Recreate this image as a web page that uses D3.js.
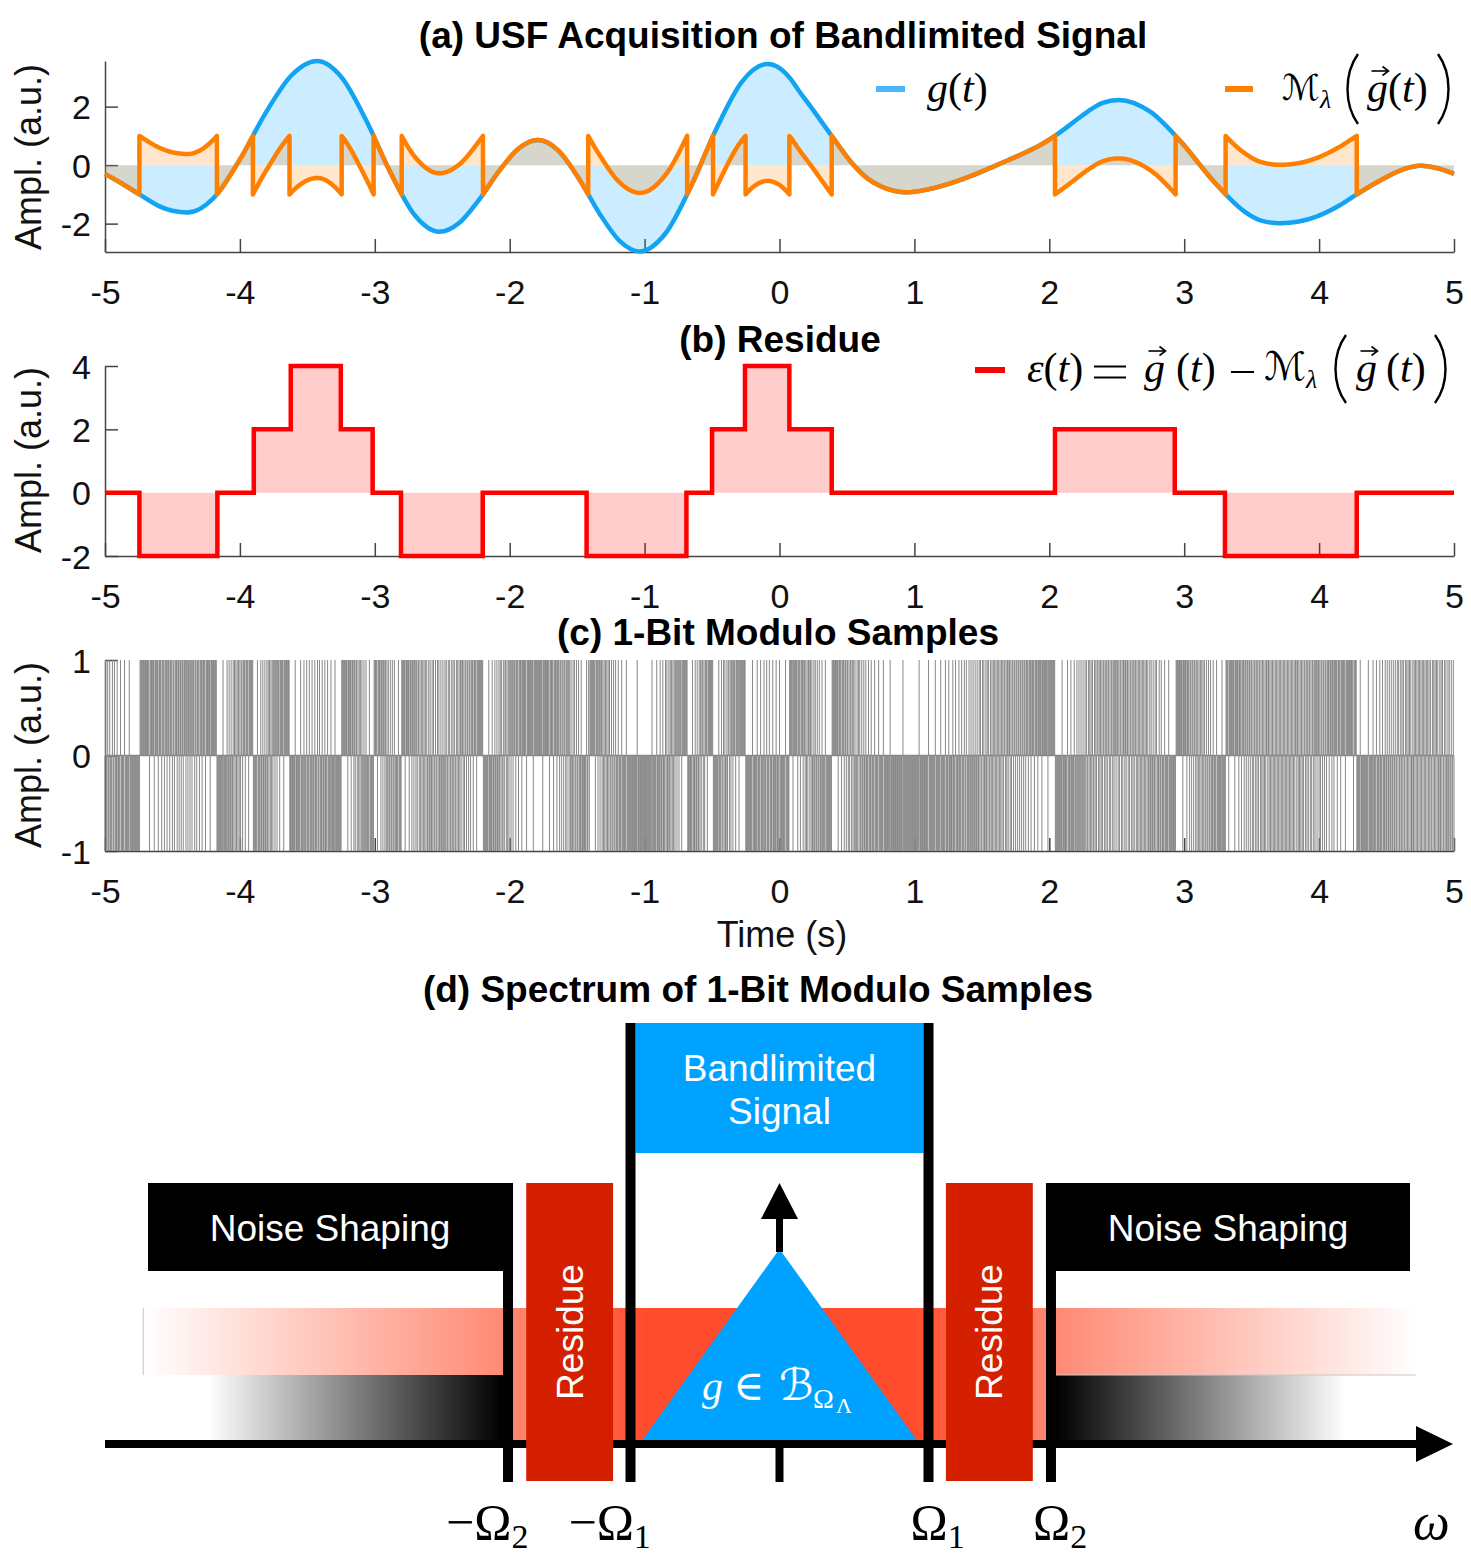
<!DOCTYPE html>
<html>
<head>
<meta charset="utf-8">
<script src="https://cdn.jsdelivr.net/npm/d3@7"></script>
<style>
  body { margin: 0; background: #fff; }
  svg { display: block; }
  text { font-family: "Liberation Sans", Arial, sans-serif; }
  .math { font-family: "Liberation Serif", "DejaVu Serif", "DejaVu Sans", serif; }
</style>
</head>
<body>
<svg id="fig" width="1471" height="1561"></svg>
<script>
// g(t)
var gTime  = [-5, -4.875, -4.745, -4.6, -4.5, -4.387, -4.195, -4.003, -3.811, -3.619, -3.427,
              -3.246, -3.065, -2.883, -2.702, -2.521, -2.375, -2.229, -2.082, -1.936, -1.79,
              -1.639, -1.488, -1.337, -1.186, -1.035, -0.846, -0.657, -0.468, -0.279, -0.09,
              0, 0.073, 0.15, 0.231, 0.387, 0.55, 0.65, 0.75, 0.85, 0.943,
              1.1, 1.3, 1.5, 1.65, 1.807, 1.93, 2.042, 2.16, 2.29, 2.39, 2.515,
              2.748, 2.981, 3.214, 3.447, 3.564, 3.71, 3.85, 3.98, 4.15, 4.279,
              4.4, 4.52, 4.64, 4.75, 4.87, 5];
var gValue = [-0.3, -0.63, -1, -1.4, -1.56, -1.62, -1.125, 0.17, 1.77, 3.065, 3.56,
              3.002, 1.542, -0.262, -1.722, -2.28, -1.98, -1.195, -0.225, 0.56, 0.86,
              0.496, -0.456, -1.634, -2.586, -2.95, -2.338, -0.735, 1.245, 2.848, 3.46,
              3.32, 3, 2.5, 2, 1, 0, -0.45, -0.72, -0.88, -0.93,
              -0.83, -0.57, -0.22, 0.08, 0.4, 0.68, 1, 1.4, 1.85, 2.12, 2.23,
              1.827, 0.772, -0.532, -1.587, -1.887, -1.99, -1.93, -1.76, -1.38, -1,
              -0.66, -0.36, -0.12, -0.02, -0.1, -0.3];
// residue: level held between consecutive step times
var stepTime = [-5, -4.745, -4.167, -3.897, -3.623, -3.252, -3.016, -2.806, -2.2, -1.43, -0.69, -0.5, -0.256,
                0.073, 0.387, 2.042, 2.93, 3.302, 4.279, 5];
var residueLevel = [0, -2, 0, 2, 4, 2, 0, -2, 0, -2, 0, 2, 4, 2, 0, 2, 0, -2, 0];
var timeTicks = [-5, -4, -3, -2, -1, 0, 1, 2, 3, 4, 5];
var ampTicksA = [-2, 0, 2];
var ampTicksB = [-2, 0, 2, 4];
var ampTicksC = [-1, 0, 1];
var lambda = 1;           // modulo threshold
var sampleStep = 0.005;   // 1-bit sampling period (s)
// spectrum sketch (panel d), frequencies in units of Omega_1
var bandEdges = [-1.822, -1, 1, 1.822];
var bandNames = ["\u2212\u03a9", "\u2212\u03a9", "\u03a9", "\u03a9"];
var bandSubs = ["2", "1", "1", "2"];

var svg = d3.select("#fig");
var x = d3.scaleLinear().domain([-5, 5]).range([105, 1454]);
var yA = d3.scaleLinear().domain([-2.97, 3.56]).range([252, 61]);
var yB = d3.scaleLinear().domain([-2, 4]).range([556, 366]);
var yC = d3.scaleLinear().domain([-1, 1]).range([851, 660]);

var axisCol = "#444";

function drawAxes(yScale, yTicks){
  var gx = svg.append("g").attr("transform", "translate(0," + yScale.range()[0] + ")")
    .call(d3.axisBottom(x).tickValues(timeTicks).tickSize(-13).tickSizeOuter(0).tickFormat(function(d){ return String(d); }));
  var gy = svg.append("g").attr("transform", "translate(" + x.range()[0] + ",0)")
    .call(d3.axisLeft(yScale).tickValues(yTicks).tickSize(-13).tickSizeOuter(0).tickFormat(function(d){ return String(d); }));
  [gx, gy].forEach(function(a){
    a.attr("font-size", null).attr("font-family", null);
    a.select(".domain").attr("stroke", axisCol).attr("stroke-width", 1.5);
    a.selectAll(".tick line").attr("stroke", axisCol).attr("stroke-width", 1.5);
    a.selectAll(".tick text").attr("fill", "#111").attr("font-size", 34);
  });
  gx.selectAll(".tick text").attr("y", 52).attr("dy", null);
  gy.selectAll(".tick text").attr("x", -14).attr("dy", "0.36em");
}

function title(s, cx, by){
  svg.append("text").attr("x", cx).attr("y", by).attr("text-anchor", "middle")
    .attr("font-size", 37).attr("font-weight", "bold").attr("fill", "#000").text(s);
}
function ylabel(cy){
  svg.append("text").attr("transform", "translate(41," + cy + ") rotate(-90)").attr("text-anchor", "middle")
    .attr("font-size", 36).attr("fill", "#111").text("Ampl. (a.u.)");
}
// math helpers for the legends
function mtext(xp, yp, parts, size){
  var t = svg.append("text").attr("class", "math").attr("x", xp).attr("y", yp).attr("font-size", size || 40).attr("fill", "#000");
  parts.forEach(function(p){ t.append("tspan").attr("font-style", p[1] ? "italic" : "normal").text(p[0]); });
  return t;
}
function vecArrow(xc, yb, w){
  var y = yb - 31;
  svg.append("path").attr("d", "M" + (xc - w / 2) + "," + y + "H" + (xc + w / 2 - 1))
    .attr("stroke", "#000").attr("stroke-width", 1.6).attr("fill", "none");
  svg.append("path").attr("d", "M" + (xc + w / 2 - 6) + "," + (y - 4.5) + "L" + (xc + w / 2) + "," + y + "L" + (xc + w / 2 - 6) + "," + (y + 4.5))
    .attr("stroke", "#000").attr("stroke-width", 1.6).attr("fill", "none");
}
function bigParen(x0, x1, top, bot, open){
  var xi = open ? x1 : x0, xo = open ? x0 : x1, h = bot - top;
  svg.append("path").attr("d", "M" + xi + "," + top + "C" + xo + "," + (top + h * 0.28) + " " + xo + "," + (bot - h * 0.28) + " " + xi + "," + bot)
    .attr("stroke", "#000").attr("stroke-width", 2.4).attr("fill", "none");
}
// script M with lambda subscript, squeezed to the given width
function modM(x0, yb, w){
  var m = mtext(x0, yb, [["\u2133", false]], 40);
  var mw = m.node().getComputedTextLength();
  m.attr("font-size", 40 * Math.min(1, w / mw));
  mw = m.node().getComputedTextLength();
  mtext(x0 + mw, yb + 8, [["\u03bb", true]], 26);
}
function eqSign(x0, x1, yc){
  [yc - 5.5, yc + 5.5].forEach(function(yy){
    svg.append("line").attr("x1", x0).attr("x2", x1).attr("y1", yy).attr("y2", yy).attr("stroke", "#000").attr("stroke-width", 2);
  });
}
function legendLine(x0, x1, y, col){
  svg.append("line").attr("x1", x0).attr("x2", x1).attr("y1", y).attr("y2", y).attr("stroke", col).attr("stroke-width", 6);
}

// ---------- (a) ----------
drawAxes(yA, ampTicksA);
var fillLayer = svg.append("g"), lineLayer = svg.append("g");
var gPts = gTime.map(function(t, k){ return [t, gValue[k]]; });
var areaA = d3.area().x(function(p){ return x(p[0]); }).y0(yA(0)).y1(function(p){ return yA(p[1]); });
var lineA = d3.line().x(function(p){ return x(p[0]); }).y(function(p){ return yA(p[1]); });
fillLayer.append("path").attr("d", areaA.curve(d3.curveMonotoneX)(gPts)).attr("fill", "rgba(0,160,255,0.2)");
var blue = lineLayer.append("path").attr("d", lineA.curve(d3.curveMonotoneX)(gPts)).attr("fill", "none")
  .attr("stroke", "#12a3f3").attr("stroke-width", 4.5);
// follow the drawn g(t) curve and fold it into [-lambda, lambda)
var bn = blue.node(), bl = bn.getTotalLength(), dense = [];
for (var s = 0; s <= bl; s += 0.5){
  var pp = bn.getPointAtLength(s);
  dense.push([x.invert(pp.x), yA.invert(pp.y)]);
}
dense.sort(function(a, b){ return a[0] - b[0]; });
var denseT = dense.map(function(p){ return p[0]; });
function gAt(t){
  var i = Math.max(1, Math.min(dense.length - 1, d3.bisectRight(denseT, t)));
  var a = dense[i - 1], b = dense[i];
  return b[0] === a[0] ? a[1] : a[1] + (b[1] - a[1]) * (t - a[0]) / (b[0] - a[0]);
}
function levelOf(v){ return 2 * lambda * Math.floor((v + lambda) / (2 * lambda)); }
var segs = [], cur = [], curLev = levelOf(dense[0][1]);
dense.forEach(function(p, i){
  var lev = levelOf(p[1]);
  if (i > 0 && lev !== curLev){
    var q = dense[i - 1];
    var bnd = lev > curLev ? curLev + lambda : curLev - lambda;
    var tc = q[0] + (bnd - q[1]) * (p[0] - q[0]) / (p[1] - q[1]);
    cur.push([tc, bnd - curLev]);
    segs.push(cur);
    cur = [[tc, bnd - lev]];
    curLev = lev;
  }
  cur.push([p[0], p[1] - curLev]);
});
segs.push(cur);
areaA.curve(d3.curveLinear); lineA.curve(d3.curveLinear);
segs.forEach(function(sg){ fillLayer.append("path").attr("d", areaA(sg)).attr("fill", "rgba(255,128,0,0.2)"); });
var dOrange = "";
segs.forEach(function(sg, i){ var d = lineA(sg); dOrange += (i > 0 ? "L" + d.slice(1) : d); });
lineLayer.append("path").attr("d", dOrange).attr("fill", "none").attr("stroke", "#ff8000").attr("stroke-width", 4.5).attr("stroke-linejoin", "round");
title("(a) USF Acquisition of Bandlimited Signal", 783, 48);
ylabel(157);
legendLine(876, 905, 89, "#4db5fa");
mtext(927, 102, [["g", true], ["(", false], ["t", true], [")", false]], 42);
legendLine(1225, 1253, 89, "#ff8000");
modM(1282, 100, 38);
bigParen(1344, 1358, 54, 124, true);
mtext(1367, 102, [["g", true]], 42);
vecArrow(1380, 102, 17);
mtext(1388, 102, [["(", false], ["t", true], [")", false]], 42);
bigParen(1438, 1452, 54, 124, false);

// ---------- (b) ----------
drawAxes(yB, ampTicksB);
var resPts = residueLevel.map(function(r, i){ return [stepTime[i], r]; });
resPts.push([stepTime[stepTime.length - 1], residueLevel[residueLevel.length - 1]]);
var areaB = d3.area().x(function(p){ return x(p[0]); }).y0(yB(0)).y1(function(p){ return yB(p[1]); }).curve(d3.curveStepAfter);
var lineB = d3.line().x(function(p){ return x(p[0]); }).y(function(p){ return yB(p[1]); }).curve(d3.curveStepAfter);
svg.append("path").attr("d", areaB(resPts)).attr("fill", "rgba(255,0,0,0.2)");
svg.append("path").attr("d", lineB(resPts)).attr("fill", "none").attr("stroke", "#ff0000").attr("stroke-width", 4.5);
title("(b) Residue", 780, 352);
ylabel(460);
legendLine(975, 1005, 370, "#ff0000");
mtext(1027, 382, [["\u03b5", true], ["(", false], ["t", true], [")", false]], 42);
eqSign(1094, 1126, 372);
mtext(1144, 382, [["g", true]], 42);
vecArrow(1157, 382, 17);
mtext(1176, 382, [["(", false], ["t", true], [")", false]], 42);
svg.append("line").attr("x1", 1231).attr("x2", 1254).attr("y1", 372).attr("y2", 372).attr("stroke", "#000").attr("stroke-width", 2);
modM(1264, 380, 42);
bigParen(1332, 1346, 335, 403, true);
mtext(1356, 382, [["g", true]], 42);
vecArrow(1369, 382, 17);
mtext(1386, 382, [["(", false], ["t", true], [")", false]], 42);
bigParen(1435, 1449, 335, 403, false);

// ---------- (c) ----------
drawAxes(yC, ampTicksC);
// first order sigma-delta of the modulo signal -> +-1 samples
var acc = 0, dStem = "";
d3.range(0, Math.round(10 / sampleStep) + 1).forEach(function(n){
  var t = -5 + n * sampleStep;
  var g = gAt(t);
  var v = acc + (g - levelOf(g)) / lambda;
  var q = v >= 0 ? 1 : -1;
  acc = v - q;
  dStem += "M" + x(t).toFixed(2) + "," + yC(0) + "V" + yC(q);
});
svg.append("path").attr("d", dStem).attr("stroke", "#888").attr("stroke-width", 1).attr("fill", "none");
svg.append("line").attr("x1", x(-5)).attr("x2", x(5)).attr("y1", yC(0)).attr("y2", yC(0)).attr("stroke", "#888").attr("stroke-width", 1.5);
title("(c) 1-Bit Modulo Samples", 778, 645);
ylabel(755);
svg.append("text").attr("x", 782).attr("y", 947).attr("text-anchor", "middle").attr("font-size", 36).attr("fill", "#111").text("Time (s)");

// ---------- (d) spectrum sketch ----------
var wx = d3.scaleLinear().domain([-1, 1]).range([630.5, 928.5]);
var axY = 1444, lineW = 10;
var defs = svg.append("defs");
var rg = defs.append("linearGradient").attr("id", "redBand").attr("gradientUnits", "userSpaceOnUse")
  .attr("x1", wx(-4.27)).attr("x2", wx(4.27)).attr("y1", 0).attr("y2", 0);
[[0, "#ffffff"], [0.283, "#ff8a74"], [0.37, "#ff5e40"], [0.395, "#ff4c2c"], [0.605, "#ff4c2c"], [0.63, "#ff5e40"], [0.717, "#ff8a74"], [1, "#ffffff"]]
  .forEach(function(s){ rg.append("stop").attr("offset", s[0]).attr("stop-color", s[1]); });
function blackGrad(id, xw, xb){
  var g = defs.append("linearGradient").attr("id", id).attr("gradientUnits", "userSpaceOnUse")
    .attr("x1", xw).attr("x2", xb).attr("y1", 0).attr("y2", 0);
  g.append("stop").attr("offset", 0).attr("stop-color", "#fff");
  g.append("stop").attr("offset", 1).attr("stop-color", "#000");
}
var xL2 = wx(bandEdges[0]), xL1 = wx(bandEdges[1]), xR1 = wx(bandEdges[2]), xR2 = wx(bandEdges[3]);
blackGrad("blkL", wx(-3.84), xL2 - lineW / 2);
blackGrad("blkR", wx(3.8), xR2 + lineW / 2);

// red band, outer parts and centre
svg.append("rect").attr("x", wx(-4.27)).attr("y", 1308).attr("width", xL2 - lineW / 2 - wx(-4.27)).attr("height", 67).attr("fill", "url(#redBand)");
svg.append("rect").attr("x", xR2 + lineW / 2).attr("y", 1308).attr("width", wx(4.27) - xR2 - lineW / 2).attr("height", 67).attr("fill", "url(#redBand)");
svg.append("rect").attr("x", xL2).attr("y", 1308).attr("width", xR2 - xL2).attr("height", axY - 1308).attr("fill", "url(#redBand)");
svg.append("rect").attr("x", wx(-4.27)).attr("y", 1375).attr("width", xL2 - lineW / 2 - wx(-4.27)).attr("height", axY - 1375).attr("fill", "url(#blkL)");
svg.append("rect").attr("x", xR2 + lineW / 2).attr("y", 1375).attr("width", wx(4.27) - xR2 - lineW / 2).attr("height", axY - 1375).attr("fill", "url(#blkR)");
svg.append("line").attr("x1", wx(-4.27)).attr("x2", wx(-4.27)).attr("y1", 1308).attr("y2", 1375).attr("stroke", "#c8c8c8").attr("stroke-width", 1);
svg.append("line").attr("x1", xR2 + lineW / 2).attr("x2", wx(4.27)).attr("y1", 1375).attr("y2", 1375).attr("stroke", "#c8c8c8").attr("stroke-width", 1);

// bandlimited triangle
svg.append("path").attr("d", "M" + wx(-0.925) + "," + (axY - 3) + "L" + wx(0) + ",1249L" + wx(0.925) + "," + (axY - 3) + "Z").attr("fill", "#00a2ff");

// omega axis with arrow
svg.append("line").attr("x1", 105).attr("x2", 1420).attr("y1", axY).attr("y2", axY).attr("stroke", "#000").attr("stroke-width", 8);
svg.append("path").attr("d", "M1416," + (axY - 18) + "L1453," + axY + "L1416," + (axY + 18) + "Z").attr("fill", "#000");

// residue boxes
[[-1.70, -1.117], [1.117, 1.70]].forEach(function(b){
  svg.append("rect").attr("x", wx(b[0])).attr("y", 1183).attr("width", wx(b[1]) - wx(b[0])).attr("height", 298).attr("fill", "#d52000");
  var cx = (wx(b[0]) + wx(b[1])) / 2;
  svg.append("text").attr("transform", "translate(" + (cx + 13) + ",1332) rotate(-90)").attr("text-anchor", "middle")
    .attr("font-size", 37).attr("fill", "#fff").text("Residue");
});

// noise shaping boxes
svg.append("rect").attr("x", 148).attr("y", 1183).attr("width", xL2 + lineW / 2 - 148).attr("height", 88).attr("fill", "#000");
svg.append("rect").attr("x", xR2 - lineW / 2).attr("y", 1183).attr("width", 1410 - xR2 + lineW / 2).attr("height", 88).attr("fill", "#000");
svg.append("text").attr("x", 330).attr("y", 1241).attr("text-anchor", "middle").attr("font-size", 37).attr("fill", "#fff").text("Noise Shaping");
svg.append("text").attr("x", 1228).attr("y", 1241).attr("text-anchor", "middle").attr("font-size", 37).attr("fill", "#fff").text("Noise Shaping");

// bandlimited signal box
svg.append("rect").attr("x", xL1 + lineW / 2).attr("y", 1023).attr("width", xR1 - xL1 - lineW).attr("height", 130).attr("fill", "#00a2ff");
svg.append("text").attr("x", wx(0)).attr("y", 1081).attr("text-anchor", "middle").attr("font-size", 37).attr("fill", "#fff").text("Bandlimited");
svg.append("text").attr("x", wx(0)).attr("y", 1124).attr("text-anchor", "middle").attr("font-size", 37).attr("fill", "#fff").text("Signal");

// band edge lines
[xL1, xR1].forEach(function(px){
  svg.append("line").attr("x1", px).attr("x2", px).attr("y1", 1023).attr("y2", 1482).attr("stroke", "#000").attr("stroke-width", lineW);
});
[xL2, xR2].forEach(function(px){
  svg.append("line").attr("x1", px).attr("x2", px).attr("y1", 1183).attr("y2", 1482).attr("stroke", "#000").attr("stroke-width", lineW);
});
svg.append("line").attr("x1", wx(0)).attr("x2", wx(0)).attr("y1", axY).attr("y2", 1482).attr("stroke", "#000").attr("stroke-width", 8);
svg.append("line").attr("x1", wx(0)).attr("x2", wx(0)).attr("y1", 1252).attr("y2", 1212).attr("stroke", "#000").attr("stroke-width", 7);
svg.append("path").attr("d", "M" + (wx(0) - 18.5) + ",1219L" + wx(0) + ",1183L" + (wx(0) + 18.5) + ",1219Z").attr("fill", "#000");

// g in B_{Omega_Lambda}
var tri = svg.append("text").attr("class", "math").attr("fill", "#fff");
tri.append("tspan").attr("x", 702).attr("y", 1400).attr("font-size", 42).attr("font-style", "italic").text("g");
tri.append("tspan").attr("x", 733).attr("y", 1400).attr("font-size", 42).text("\u2208");
tri.append("tspan").attr("x", 779).attr("y", 1400).attr("font-size", 44).text("\u212c");
tri.append("tspan").attr("x", 813).attr("y", 1408).attr("font-size", 28).text("\u03a9");
tri.append("tspan").attr("x", 836).attr("y", 1413).attr("font-size", 22).text("\u039b");

// frequency labels
bandEdges.forEach(function(w, i){
  var t = svg.append("text").attr("class", "math").attr("x", wx(w) + (i < 2 ? -62 : -18)).attr("y", 1539).attr("font-size", 50).attr("fill", "#000");
  t.append("tspan").text(bandNames[i]);
  t.append("tspan").attr("font-size", 34).attr("dy", 9).text(bandSubs[i]);
});
svg.append("text").attr("class", "math").attr("x", 1413).attr("y", 1539).attr("font-size", 52).attr("font-style", "italic").attr("fill", "#000").text("\u03c9");

title("(d) Spectrum of 1-Bit Modulo Samples", 758, 1002);
</script>
</body>
</html>
